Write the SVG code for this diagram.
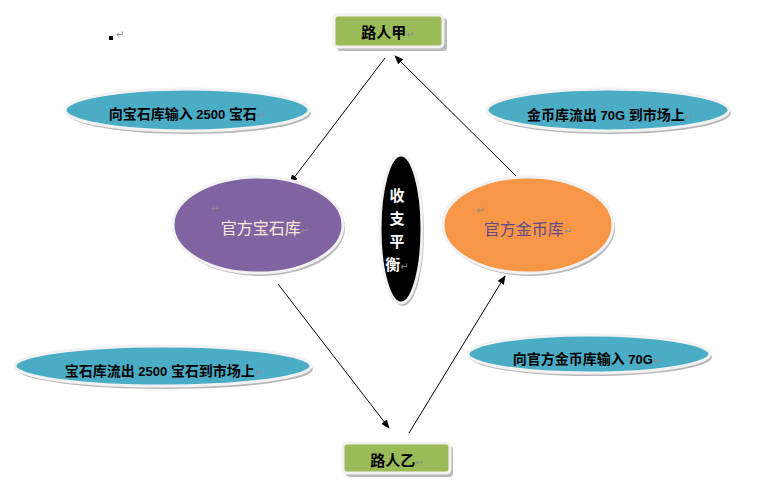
<svg xmlns="http://www.w3.org/2000/svg" width="783" height="496" viewBox="0 0 783 496">
<style>
.t{font-family:"Noto Sans CJK SC","Noto Sans CJK JP",sans-serif;font-weight:bold;fill:#000;text-anchor:middle}
.n{font-family:"Liberation Sans","Noto Sans",sans-serif;font-weight:bold;font-size:13px}
.pm{font-family:"DejaVu Sans",sans-serif;font-size:10px;fill:#8c8c8c;font-weight:normal}
.sh{fill:#9a9a9a;opacity:0.7}
.rim{stroke:#f2f2f2;stroke-width:3}
.ell{fill:#4bacc6}
.box{fill:#9bbb59}
.ln{stroke:#000;stroke-width:1;fill:none;marker-end:url(#ah)}
</style>
<defs>
<marker id="ah" viewBox="0 0 10 10" refX="9" refY="5" markerWidth="9" markerHeight="9" orient="auto" markerUnits="userSpaceOnUse">
<path d="M0,1 L10,5 L0,9 z" fill="#000"/>
</marker>
</defs>
<rect width="783" height="496" fill="#fff"/>
<g id="mark">
<rect x="109" y="36" width="4" height="4" fill="#000"/>
<text x="116" y="38" class="pm">↵</text>
</g>
<g id="connectors">
<line class="ln" x1="385" y1="58" x2="290" y2="183"/>
<line class="ln" x1="520" y1="180" x2="395" y2="56"/>
<line class="ln" x1="278" y1="284" x2="389" y2="428"/>
<line class="ln" x1="409" y1="433" x2="505" y2="276"/>
</g>
<g id="jia">
<rect x="337" y="18" width="110" height="33" rx="4" class="sh"/>
<rect x="334" y="15" width="109" height="32" rx="4" class="box rim"/>
<text x="388" y="38" class="t" font-size="15">路人甲<tspan class="pm">↵</tspan></text>
</g>
<g id="yi">
<rect x="346" y="446" width="107" height="31" rx="4" class="sh"/>
<rect x="343" y="443" width="107" height="30" rx="4" class="box rim"/>
<text x="397" y="466" class="t" font-size="15">路人乙<tspan class="pm">↵</tspan></text>
</g>
<g id="e1">
<ellipse cx="189" cy="113" rx="122" ry="21" class="sh"/>
<ellipse cx="187" cy="110" rx="122" ry="21" class="ell rim"/>
<text x="187" y="119" class="t" font-size="14">向宝石库输入<tspan class="n"> 2500 </tspan>宝石<tspan class="pm">↵</tspan></text>
</g>
<g id="e2">
<ellipse cx="610" cy="113" rx="121" ry="21" class="sh"/>
<ellipse cx="608" cy="110" rx="121" ry="21" class="ell rim"/>
<text x="610" y="120" class="t" font-size="14">金币库流出<tspan class="n"> 70G </tspan>到市场上<tspan class="pm">↵</tspan></text>
</g>
<g id="e3">
<ellipse cx="165" cy="369" rx="148" ry="20" class="sh"/>
<ellipse cx="163" cy="366" rx="148" ry="20" class="ell rim"/>
<text x="164" y="376" class="t" font-size="14">宝石库流出<tspan class="n"> 2500 </tspan>宝石到市场上<tspan class="pm">↵</tspan></text>
</g>
<g id="e4">
<ellipse cx="591" cy="357" rx="121" ry="19" class="sh"/>
<ellipse cx="589" cy="354" rx="121" ry="19" class="ell rim"/>
<text x="587" y="364" class="t" font-size="14">向官方金币库输入<tspan class="n"> 70G</tspan><tspan class="pm">↵</tspan></text>
</g>
<g id="gem">
<ellipse cx="260" cy="228" rx="85" ry="48" class="sh"/>
<ellipse cx="258" cy="225" rx="85" ry="48" fill="#8064a2" class="rim"/>
<text x="211" y="212" class="pm">↵</text>
<text x="265" y="234" class="t" font-size="16" style="font-weight:normal;fill:#fde9d9">官方宝石库<tspan class="pm">↵</tspan></text>
</g>
<g id="coin">
<ellipse cx="530" cy="228" rx="85" ry="48" class="sh"/>
<ellipse cx="528" cy="225" rx="85" ry="48" fill="#f79646" class="rim"/>
<text x="476" y="214" class="pm">↵</text>
<text x="528" y="235" class="t" font-size="16" style="font-weight:normal;fill:#5f4b8b">官方金币库<tspan class="pm">↵</tspan></text>
</g>
<g id="balance">
<ellipse cx="403" cy="232" rx="21" ry="74" class="sh"/>
<ellipse cx="401" cy="229" rx="21" ry="74" fill="#000" class="rim"/>
<g class="t" font-size="15" style="fill:#fff">
<text x="397" y="201">收</text>
<text x="397" y="224">支</text>
<text x="397" y="247">平</text>
<text x="397" y="270">衡<tspan class="pm">↵</tspan></text>
</g>
</g>
</svg>
